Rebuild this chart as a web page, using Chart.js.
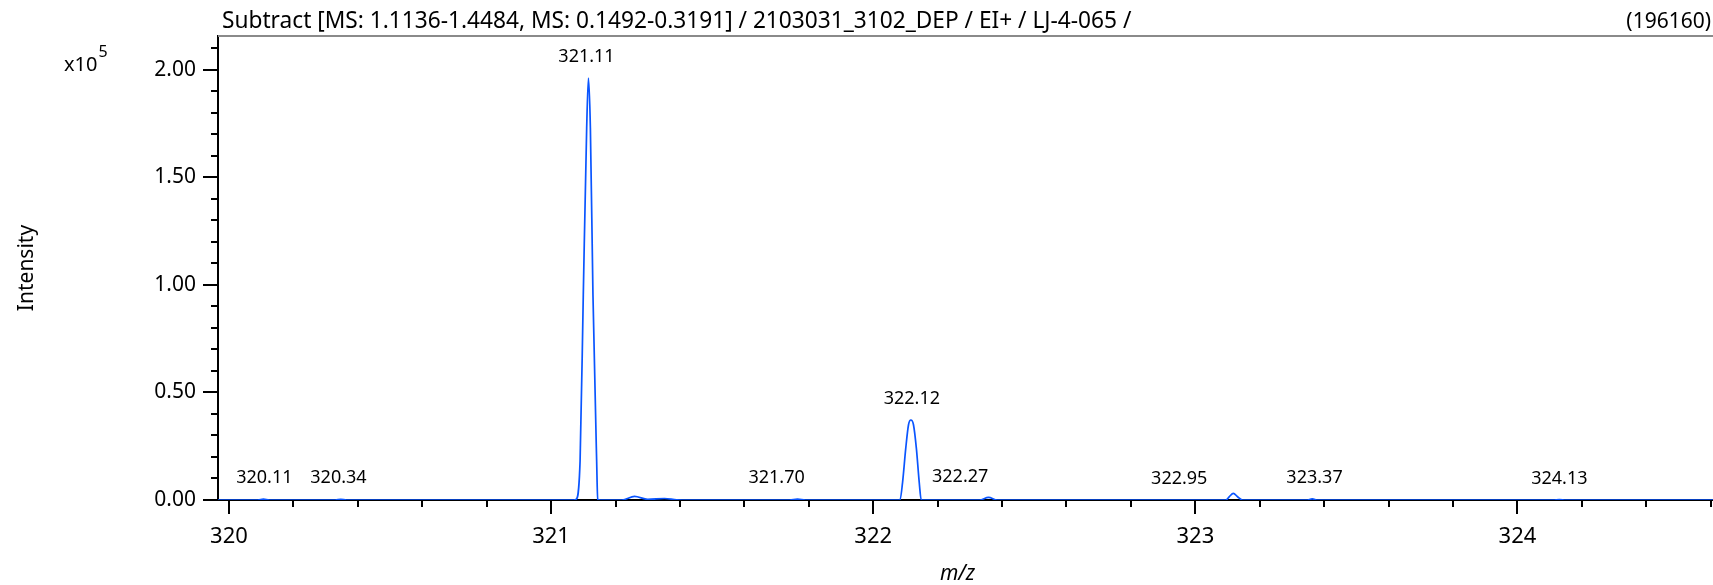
<!DOCTYPE html>
<html>
<head>
<meta charset="utf-8">
<script src="https://cdn.jsdelivr.net/npm/chart.js@4"></script>
<style>
  html, body { margin: 0; padding: 0; background: #fff; }
  canvas { display: block; }
</style>
</head>
<body>
<canvas id="spectrum" width="1713" height="585"></canvas>
<script>
// profile spectrum (m/z, counts)
const mzValues = [
  319.966, 320.09, 320.107, 320.125, 320.33, 320.347, 320.365,
  321.07, 321.0775, 321.090, 321.100, 321.1105, 321.116, 321.122, 321.130, 321.1415, 321.1447, 321.152,
  321.22, 321.259, 321.30, 321.352, 321.39, 321.43,
  321.74, 321.765, 321.79,
  322.083, 322.091, 322.101, 322.1096, 322.117, 322.125, 322.134, 322.143, 322.149,
  322.33, 322.358, 322.385,
  323.095, 323.105, 323.118, 323.131, 323.146,
  323.345, 323.363, 323.38,
  324.11, 324.13, 324.15, 324.607
];
const intensityValues = [
  0, 0, 400, 0, 0, 300, 0,
  0, 300, 18000, 95500, 173000, 196160, 173000, 95500, 18000, 300, 0,
  0, 1700, 300, 700, 100, 0,
  0, 400, 0,
  0, 8000, 24000, 35000, 37200, 35000, 24000, 8000, 0,
  0, 1200, 0,
  0, 1500, 3100, 1500, 0,
  0, 500, 0,
  0, 200, 0, 0
];

// peak annotations
const peakLabelMz = [320.11, 320.34, 321.11, 321.70, 322.12, 322.27, 322.95, 323.37, 324.13];
const peakLabelIntensity = [400, 300, 196160, 400, 37200, 1200, 0, 500, 200];

// axis ticks (labels only on the majors)
const xTickValues = [320, 320.2, 320.4, 320.6, 320.8, 321, 321.2, 321.4, 321.6, 321.8,
  322, 322.2, 322.4, 322.6, 322.8, 323, 323.2, 323.4, 323.6, 323.8, 324, 324.2, 324.4, 324.6];
const yTickValues = [0, 10000, 20000, 30000, 40000, 50000, 60000, 70000, 80000, 90000, 100000,
  110000, 120000, 130000, 140000, 150000, 160000, 170000, 180000, 190000, 200000, 210000];

const titleText = 'Subtract [MS: 1.1136-1.4484, MS: 0.1492-0.3191] / 2103031_3102_DEP / EI+ / LJ-4-065 /';
const maxText = '(196160)';

const xMin = 319.966, xMax = 324.607;
const yMax = 196160 * 1.1;
const FONT = '"Noto Sans", "Open Sans", sans-serif';

const points = mzValues.map((mz, i) => ({ x: mz, y: intensityValues[i] }));

function isStep(v, step) {
  const r = v / step;
  return Math.abs(r - Math.round(r)) < 1e-6;
}

// ticks, labels and the top frame line
const decorations = {
  id: 'decorations',
  afterDraw(chart) {
    const { ctx, chartArea: a, scales: { x, y } } = chart;
    ctx.save();

    // top frame
    ctx.strokeStyle = '#8a8a8a';
    ctx.lineWidth = 2;
    ctx.beginPath();
    ctx.moveTo(a.left, a.top);
    ctx.lineTo(a.right, a.top);
    ctx.stroke();

    // tick marks
    ctx.strokeStyle = '#000';
    ctx.lineWidth = 2;
    ctx.beginPath();
    x.ticks.forEach(t => {
      const px = Math.round(x.getPixelForValue(t.value));
      const len = isStep(t.value, 1) ? 14 : 7;
      ctx.moveTo(px, a.bottom);
      ctx.lineTo(px, a.bottom + len);
    });
    y.ticks.forEach(t => {
      const py = Math.round(y.getPixelForValue(t.value));
      const len = isStep(t.value, 50000) ? 15 : 7;
      ctx.moveTo(a.left, py);
      ctx.lineTo(a.left - len, py);
    });
    ctx.stroke();

    // peak labels
    ctx.fillStyle = '#000';
    ctx.font = '18px ' + FONT;
    ctx.textAlign = 'center';
    ctx.textBaseline = 'middle';
    peakLabelMz.forEach((mz, i) => {
      ctx.fillText(mz.toFixed(2), x.getPixelForValue(mz), y.getPixelForValue(peakLabelIntensity[i]) - 21);
    });

    // title
    ctx.font = '22.7px ' + FONT;
    ctx.textAlign = 'left';
    ctx.fillText(titleText, 222, 22);
    ctx.font = '21px ' + FONT;
    ctx.textAlign = 'right';
    ctx.fillText(maxText, 1711, 22);

    // exponent
    ctx.textAlign = 'left';
    ctx.font = '20px ' + FONT;
    ctx.fillText('x10', 64, 65);
    const w = ctx.measureText('x10').width;
    ctx.font = '16px ' + FONT;
    ctx.fillText('5', 64 + w + 1, 52);

    // axis titles
    ctx.font = 'italic 21px ' + FONT;
    ctx.textAlign = 'center';
    ctx.fillText('m/z', (a.left + a.right) / 2 - 8, 574);

    ctx.font = '21px ' + FONT;
    ctx.translate(27, (a.top + a.bottom) / 2);
    ctx.rotate(-Math.PI / 2);
    ctx.fillText('Intensity', 0, 0);

    ctx.restore();
  }
};

new Chart(document.getElementById('spectrum'), {
  type: 'line',
  data: {
    datasets: [{
      data: points,
      borderColor: '#0a55ff',
      borderWidth: 1.7,
      pointRadius: 0,
      fill: false,
      cubicInterpolationMode: 'monotone'
    }]
  },
  options: {
    responsive: false,
    animation: false,
    events: [],
    layout: { padding: { top: 36, left: 0, right: 0, bottom: 0 } },
    plugins: {
      legend: { display: false },
      tooltip: { enabled: false },
      title: { display: false }
    },
    scales: {
      x: {
        type: 'linear',
        min: xMin,
        max: xMax,
        afterBuildTicks(scale) { scale.ticks = xTickValues.map(value => ({ value })); },
        afterFit(scale) {
          scale.height = 85;
          scale.paddingLeft = 0;
          scale.paddingRight = 0;
        },
        grid: { display: false, drawTicks: false },
        border: { display: true, color: '#000', width: 2 },
        ticks: {
          autoSkip: false,
          maxRotation: 0,
          padding: 24,
          color: '#000',
          font: { family: FONT, size: 22 },
          callback: v => isStep(v, 1) ? String(Math.round(v)) : ''
        }
      },
      y: {
        type: 'linear',
        min: 0,
        max: yMax,
        afterBuildTicks(scale) { scale.ticks = yTickValues.map(value => ({ value })); },
        afterFit(scale) {
          scale.width = 218;
          scale.paddingTop = 0;
          scale.paddingBottom = 0;
        },
        grid: { display: false, drawTicks: false },
        border: { display: true, color: '#000', width: 2 },
        ticks: {
          autoSkip: false,
          padding: 22,
          color: '#000',
          font: { family: FONT, size: 21 },
          callback: v => isStep(v, 50000) ? (v / 1e5).toFixed(2) : ''
        }
      }
    }
  },
  plugins: [decorations]
});
</script>
</body>
</html>
